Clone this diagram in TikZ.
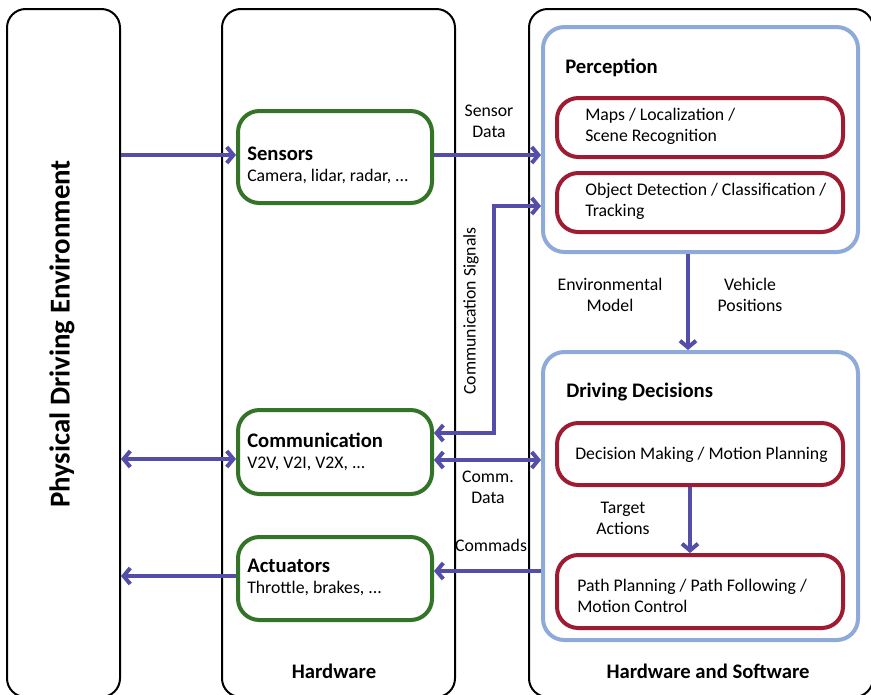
\documentclass[tikz,border=0pt]{standalone}
\usepackage{fontspec}
\setmainfont{Carlito}
\usetikzlibrary{arrows.meta}

\definecolor{groupblue}{RGB}{142,170,219}
\definecolor{blockgreen}{RGB}{52,116,40}
\definecolor{taskred}{RGB}{158,27,50}
\definecolor{flowblue}{RGB}{85,78,168}

\newcommand{\txtfont}{\fontsize{13.3}{15.75}\selectfont}
\newcommand{\ttlfont}{\bfseries\fontsize{15.5}{18}\selectfont}
\newcommand{\bigfont}{\bfseries\fontsize{21.6}{25}\selectfont}

\begin{document}
\begin{tikzpicture}[x=0.75pt, y=-0.75pt,
  column/.style={draw, line width=1.5pt, rounded corners=14pt, minimum height=516pt},
  group/.style={draw=groupblue, line width=3pt, rounded corners=16pt, minimum width=236.25pt},
  block/.style={draw=blockgreen, line width=3pt, rounded corners=16pt, minimum width=145.5pt},
  task/.style={draw=taskred, line width=3pt, rounded corners=16pt, minimum width=214.5pt},
  txt/.style={inner sep=0pt, align=left, anchor=west, font=\txtfont},
  head/.style={inner sep=0pt, anchor=west, font=\ttlfont},
  note/.style={inner sep=0pt, align=center, font=\txtfont},
  flow/.style={draw=flowblue, line width=3pt},
  >={Straight Barb[length=5pt,width=12pt]}]
  \useasboundingbox (0,0) rectangle (871,694);
  \clip (0,0) rectangle (871,694);

  % columns
  \node[column, minimum width=84.75pt] (env) at (63.5,353) {};
  \node[column, minimum width=174.75pt] (hw) at (338.5,353) {};
  \node[column, minimum width=258pt] (hwsw) at (701,353) {};
  \node[font=\bigfont, rotate=90, inner sep=0pt] (envtext) at (62,334) {Physical Driving Environment};
  \node[head, anchor=center] (hwtext) at (334,671) {Hardware};
  \node[head, anchor=center] (hwswtext) at (708,671) {Hardware and Software};

  % software side
  \node[group, minimum height=168.75pt] (perc) at (700.5,139.5) {};
  \node[group, minimum height=216pt] (drive) at (700.5,496) {};
  \node[task, minimum height=44.25pt] (maps) at (700,127.5) {};
  \node[task, minimum height=44.25pt] (objects) at (700,202.5) {};
  \node[task, minimum height=46.5pt] (decide) at (700,454) {};
  \node[task, minimum height=54.75pt] (path) at (700,591.5) {};
  \node[head] (perctext) at (565,68) {Perception};
  \node[head] (drivetext) at (566,392) {Driving Decisions};
  \node[txt] (mapstext) at (585,126.5) {Maps / Localization /\\Scene Recognition};
  \node[txt] (objectstext) at (585,201.5) {Object Detection / Classification /\\Tracking};
  \node[txt] (decidetext) at (575,455) {Decision Making / Motion Planning};
  \node[txt] (pathtext) at (577,595.5) {Path Planning / Path Following /\\Motion Control};

  % hardware side
  \node[block, minimum height=69pt] (sens) at (335,157) {};
  \node[block, minimum height=63pt] (comm) at (335,452) {};
  \node[block, minimum height=62.25pt] (act) at (335,578.5) {};
  \node[txt] (senstext) at (247,165) {{\ttlfont Sensors}\\Camera, lidar, radar, ...};
  \node[txt] (commtext) at (247,452) {{\ttlfont Communication}\\V2V, V2I, V2X, ...};
  \node[txt] (acttext) at (247,577) {{\ttlfont Actuators}\\Throttle, brakes, ...};

  % labels
  \node[note] (sensdata) at (489,121) {Sensor\\Data};
  \node[note] (commdata) at (488,487) {Comm.\\Data};
  \node[note] (commands) at (491,545) {Commads};
  \node[note] (envmodel) at (610,295) {Environmental\\Model};
  \node[note] (vehpos) at (750,295) {Vehicle\\Positions};
  \node[note] (target) at (623,518) {Target\\Actions};
  \node[note, rotate=90] (commsig) at (471,311) {Communication Signals};

  % connections
  \draw[flow,->] (env.east |- 0,155) -- (sens.west |- 0,155);
  \draw[flow,->] (sens.east |- 0,155) -- (perc.west |- 0,155);
  \draw[flow,<->] (comm.east |- 0,433) -| (494,206) -- (perc.west |- 0,206);
  \draw[flow,<->] (env.east |- 0,459) -- (comm.west |- 0,459);
  \draw[flow,<->] (comm.east |- 0,460) -- (drive.west |- 0,460);
  \draw[flow,->] (drive.west |- 0,571) -- (act.east |- 0,571);
  \draw[flow,->] (act.west |- 0,576) -- (env.east |- 0,576);
  \draw[flow,->] (perc.south -| 688,0) -- (drive.north -| 688,0);
  \draw[flow,->] (decide.south -| 690,0) -- (path.north -| 690,0);
\end{tikzpicture}
\end{document}
